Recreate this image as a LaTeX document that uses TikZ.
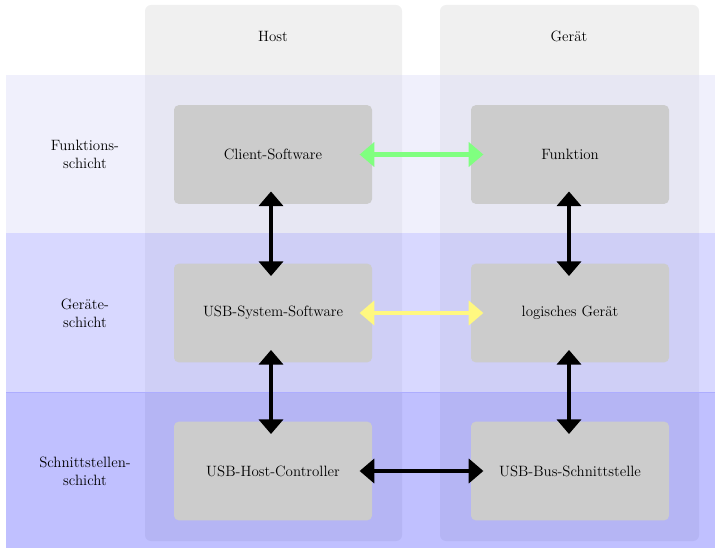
\documentclass[tikz,border=0pt]{standalone}
\usetikzlibrary{arrows.meta}
\definecolor{bandA}{RGB}{222,222,248}
\definecolor{bandB}{RGB}{158,158,255}
\definecolor{bandC}{RGB}{45,45,255}
\begin{document}
\begin{tikzpicture}[x=0.75pt,y=-0.75pt,
  band/.style={draw=none},
  col/.style={fill=black!6, draw=none, rounded corners=4.5pt},
  box/.style={fill=black!20, draw=none, rounded corners=3.5pt, minimum width=148.5pt, minimum height=74pt, inner sep=0pt, font=\fontsize{11.2pt}{13.6pt}\selectfont},
  lbl/.style={align=center, font=\fontsize{11.2pt}{13.6pt}\selectfont},
  conn/.style={line width=3.2pt, {Triangle[width=18pt,length=11pt]}-{Triangle[width=18pt,length=11pt]}, shorten <=-9.5pt, shorten >=-9.5pt}
]
\useasboundingbox (0,0) rectangle (715,549);
% columns
\fill[col] (145,5) rectangle (402,541);
\fill[col] (440,5) rectangle (699,541);
% layer bands
\fill[band, fill=bandA, fill opacity=0.45] (6,75) rectangle (715,233);
\fill[band, fill=bandB, fill opacity=0.4] (6,233) rectangle (715,392);
\fill[band, fill=bandC, fill opacity=0.3] (6,392) rectangle (715,548);
\draw[blue!32, line width=0.6pt] (6,392) -- (715,392);
\node[lbl] (hhost) at (273,36) {Host};
\node[lbl] (hdev) at (569,36) {Gerät};
% layer labels
\node[lbl] (l1) at (85,154) {Funktions-\\schicht};
\node[lbl] (l2) at (85,313) {Geräte-\\schicht};
\node[lbl] (l3) at (85,471) {Schnittstellen-\\schicht};
% boxes
\node[box] (cs) at (273,154.5) {Client-Software};
\node[box] (fn) at (570,154.5) {Funktion};
\node[box] (uss) at (273,313) {USB-System-Software};
\node[box] (lg) at (570,313) {logisches Gerät};
\node[box] (uhc) at (273,471) {USB-Host-Controller};
\node[box] (ubs) at (570,471) {USB-Bus-Schnittstelle};
% connectors
\draw[conn, draw=green!50, color=green!50] (cs) -- (fn);
\draw[conn, draw=yellow!50, color=yellow!50] (uss) -- (lg);
\draw[conn] (uhc) -- (ubs);
\draw[conn] ([xshift=-1.5pt]cs.south) -- ([xshift=-1.5pt]uss.north);
\draw[conn] ([xshift=-1.5pt]uss.south) -- ([xshift=-1.5pt]uhc.north);
\draw[conn] ([xshift=-0.75pt]fn.south) -- ([xshift=-0.75pt]lg.north);
\draw[conn] ([xshift=-0.75pt]lg.south) -- ([xshift=-0.75pt]ubs.north);
\end{tikzpicture}
\end{document}
